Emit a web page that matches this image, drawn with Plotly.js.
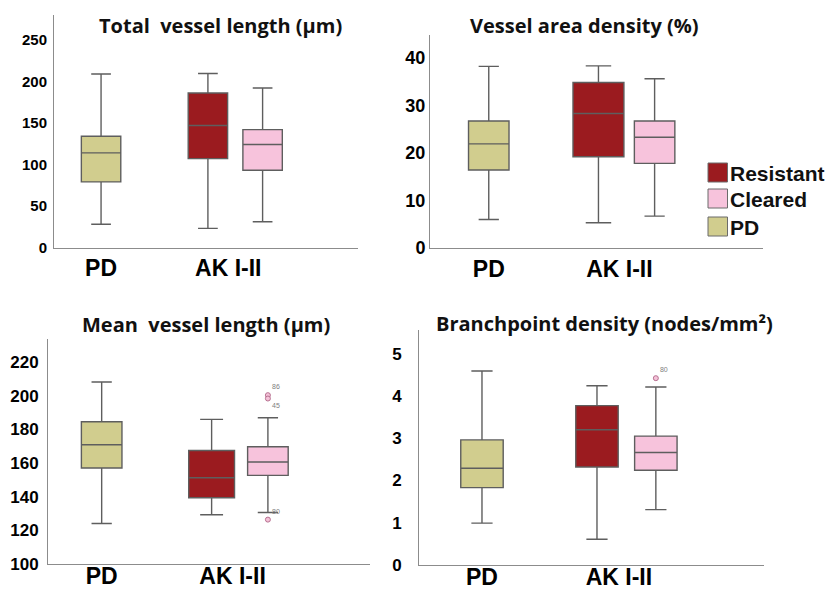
<!DOCTYPE html>
<html>
<head>
<meta charset="utf-8">
<script src="https://cdn.plot.ly/plotly-3.0.1.min.js"></script>
<style>html,body{margin:0;padding:0;background:#fff;}#chart{width:829px;height:590px;}</style>
</head>
<body>
<div id="chart"></div>
<script>
// ---- data (each series: [lower whisker, Q1, median, Q3, upper whisker]) ----
const categories = ['PD', 'AK I-II'];
const seriesNames = ['Resistant', 'Cleared', 'PD'];
const seriesColors = ['#9b1b1f', '#f7c3dc', '#d1cd8e'];

const panelTitles = ['Total\u00a0 vessel length (\u00b5m)', 'Vessel area density (%)',
                     'Mean\u00a0 vessel length (\u00b5m)', 'Branchpoint density (nodes/mm\u00b2)'];

const totalLenPD        = [28, 79, 114, 134, 209];
const totalLenResistant = [23, 107, 147, 186, 209.5];
const totalLenCleared   = [31, 93, 124, 142, 192];

const areaDensPD        = [6.0, 16.4, 21.9, 26.7, 38.2];
const areaDensResistant = [5.3, 19.2, 28.3, 34.8, 38.3];
const areaDensCleared   = [6.7, 17.8, 23.3, 26.7, 35.6];

const meanLenPD        = [124.1, 157.1, 170.9, 184.6, 208.2];
const meanLenResistant = [129.3, 139.4, 151.3, 167.5, 186.0];
const meanLenCleared   = [130.6, 152.7, 160.7, 169.7, 187.0];
const meanLenClearedOutliers = [200.4, 198.4, 126.4];
const meanLenClearedOutlierIds = ['86', '45', '80'];

const branchPD        = [0.99, 1.83, 2.29, 2.96, 4.59];
const branchResistant = [0.61, 2.32, 3.20, 3.77, 4.24];
const branchCleared   = [1.31, 2.24, 2.66, 3.05, 4.21];
const branchClearedOutliers = [4.42];
const branchClearedOutlierIds = ['80'];

const yTickStep = [50, 10, 20, 1];

// ---- layout constants ----
const W = 829, H = 590;
const px = v => v / W, py = v => 1 - v / H;
const catPos = [0, 1];                 // PD group, AK I-II group
const seriesPos = [0.84, 1.27, 0];     // Resistant, Cleared, PD
const panels = [
  {l:54,  r:358, b:247.5, t:15,  yr:[0, 280],   xr:[-0.37, 2.02], tf:15, ys:3,  xs:0,    rw:0.31, title:[220, 25]},
  {l:430, r:763, b:248,   t:35,  yr:[0, 44.8],  xr:[-0.45, 2.10], tf:18, ys:0,  xs:0,    rw:0.39, title:[584, 26]},
  {l:48,  r:370, b:564,   t:339, yr:[100,233.8],xr:[-0.41, 2.05], tf:17, ys:5,  xs:-9,   rw:0.35, title:[206, 324]},
  {l:419, r:764, b:565,   t:330, yr:[0, 5.56],  xr:[-0.46, 2.06], tf:17, ys:13, xs:-9,   rw:0.31, title:[604, 323]}
];
const panelData = [
  [totalLenResistant, totalLenCleared, totalLenPD],
  [areaDensResistant, areaDensCleared, areaDensPD],
  [meanLenResistant, meanLenCleared, meanLenPD],
  [branchResistant, branchCleared, branchPD]
];
const outliers = [null, null,
  [meanLenClearedOutliers, meanLenClearedOutlierIds, ['top right', 'bottom right', 'top right']],
  [branchClearedOutliers, branchClearedOutlierIds, ['top right']]];

const traces = [];
const layout = {
  width: W, height: H, margin: {l:0, r:0, t:0, b:0},
  paper_bgcolor: '#fff', plot_bgcolor: '#fff', showlegend: false,
  boxmode: 'overlay', annotations: [], shapes: []
};

panels.forEach((p, i) => {
  const n = i + 1, sx = n === 1 ? '' : n;
  const xa = 'xaxis' + sx, ya = 'yaxis' + sx;
  layout[xa] = {
    domain: [px(p.l), px(p.r)], range: p.xr, anchor: 'y' + sx,
    showline: true, linecolor: '#8c8c8c', linewidth: 1, showgrid: false, zeroline: false,
    ticks: '', tickvals: catPos, ticktext: categories, ticklabelstandoff: p.xs,
    tickfont: {family: 'Liberation Sans, Arial', size: 23, color: '#000', weight: 700},
    automargin: false, fixedrange: true
  };
  layout[ya] = {
    domain: [py(p.b), py(p.t)], range: p.yr, anchor: 'x' + sx,
    showline: true, linecolor: '#8c8c8c', linewidth: 1, showgrid: false, zeroline: false,
    ticks: '', dtick: yTickStep[i], tick0: 0, ticklabelstandoff: p.ys,
    tickfont: {family: 'Liberation Sans, Arial', size: p.tf, color: '#000', weight: 700},
    automargin: false, fixedrange: true
  };
  panelData[i].forEach((s, k) => {
    traces.push({
      type: 'box', xaxis: 'x' + sx, yaxis: 'y' + sx, name: seriesNames[k],
      x: [seriesPos[k]], lowerfence: [s[0]], q1: [s[1]], median: [s[2]], q3: [s[3]], upperfence: [s[4]],
      width: k === 0 ? p.rw : 0.31, whiskerwidth: 0.5,
      fillcolor: seriesColors[k], line: {color: '#5e5e5e', width: 1.4},
      boxpoints: false, hoverinfo: 'skip'
    });
  });
  if (outliers[i]) {
    traces.push({
      type: 'scatter', mode: 'markers+text', xaxis: 'x' + sx, yaxis: 'y' + sx,
      x: outliers[i][0].map(() => seriesPos[1]), y: outliers[i][0],
      text: outliers[i][1], textposition: outliers[i][2],
      textfont: {family: 'Liberation Sans, Arial', size: 7, color: '#808080'},
      marker: {symbol: 'circle', size: 5, color: '#f4c2d8', line: {color: '#b77090', width: 1}},
      hoverinfo: 'skip'
    });
  }
  layout.annotations.push({
    xref: 'paper', yref: 'paper', x: px(p.title[0]), y: py(p.title[1]),
    xanchor: 'center', yanchor: 'middle', showarrow: false, text: panelTitles[i],
    font: {family: 'Open Sans', size: 20, color: '#111', weight: 700}
  });
});

// legend (drawn as swatches + labels)
const legRows = [172.5, 198.5, 226.5];
seriesNames.forEach((nm, k) => {
  layout.shapes.push({
    type: 'rect', xref: 'paper', yref: 'paper',
    x0: px(708), x1: px(727.5), y0: py(legRows[k] + 9.5), y1: py(legRows[k] - 9.5),
    fillcolor: seriesColors[k], line: {color: '#6b6b6b', width: 1}
  });
  layout.annotations.push({
    xref: 'paper', yref: 'paper', x: px(728), y: py(legRows[k] + 1),
    xanchor: 'left', yanchor: 'middle', showarrow: false, text: nm,
    font: {family: 'Liberation Sans, Arial', size: 21, color: '#111', weight: 700}
  });
});

Plotly.newPlot('chart', traces, layout, {displayModeBar: false, staticPlot: true});
</script>
</body>
</html>
